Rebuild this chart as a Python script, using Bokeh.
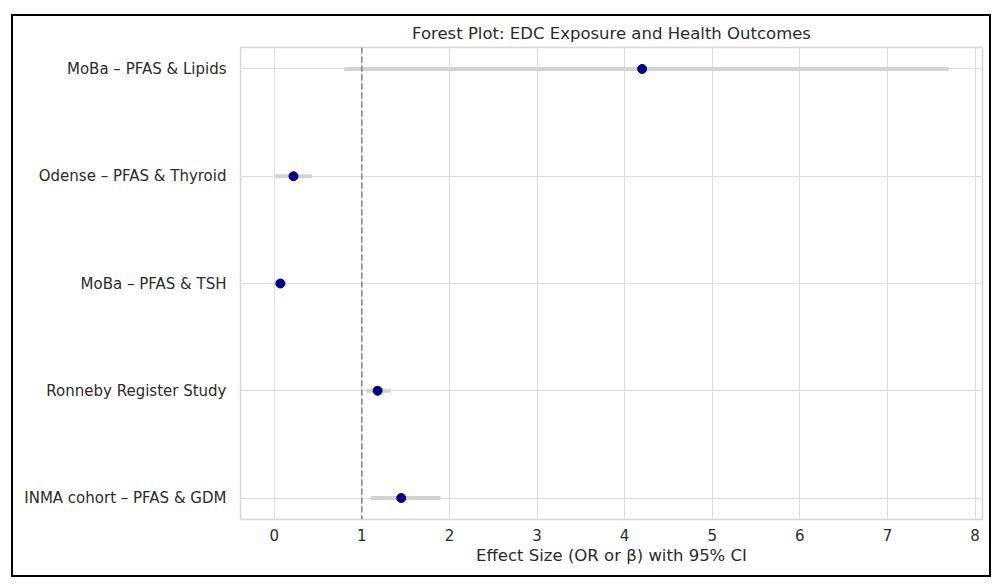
from bokeh.plotting import figure
from bokeh.models import Range1d, FixedTicker, Span
from bokeh.embed import file_html
from bokeh.resources import INLINE

studies = ["INMA cohort – PFAS & GDM", "Ronneby Register Study", "MoBa – PFAS & TSH",
           "Odense – PFAS & Thyroid", "MoBa – PFAS & Lipids"]
effects = [1.45, 1.18, 0.07, 0.22, 4.20]
ci_low = [1.10, 1.05, 0.00, 0.01, 0.80]
ci_high = [1.90, 1.33, 0.14, 0.43, 7.70]
x_ticks = [0, 1, 2, 3, 4, 5, 6, 7, 8]
ref_value = 1

ypos = list(range(len(studies)))
lo, hi = min(ci_low), max(ci_high)
pad = 0.05 * (hi - lo)

TXT = "#2b2b2b"
FONT = "DejaVu Sans"

p = figure(width=980, height=563, output_backend="svg", toolbar_location=None,
           x_range=Range1d(lo - pad, hi + pad),
           y_range=Range1d(-0.2, len(studies) - 1 + 0.2),
           min_border_left=227, min_border_right=11, min_border_top=29, min_border_bottom=60,
           margin=(14, 0, 0, 11),
           styles={"border": "2px solid black"})

p.title.text = "Forest Plot: EDC Exposure and Health Outcomes"
p.title.align = "center"
p.title.text_font = FONT
p.title.text_font_size = "16.5px"
p.title.text_font_style = "normal"
p.title.text_color = TXT

p.segment(x0=ci_low, y0=ypos, x1=ci_high, y1=ypos, line_color="lightgray", line_width=4)
p.scatter(effects, ypos, size=9, fill_color="navy", line_color="navy")
p.add_layout(Span(location=ref_value, dimension="height", line_color="gray",
                  line_dash="6 3", line_width=1.5))

p.xaxis.ticker = FixedTicker(ticks=x_ticks)
p.yaxis.ticker = FixedTicker(ticks=ypos)
p.yaxis.major_label_overrides = {i: s for i, s in enumerate(studies)}
p.xaxis.axis_label = "Effect Size (OR or β) with 95% CI"

for ax in (p.xaxis, p.yaxis):
    ax.axis_line_color = None
    ax.major_tick_line_color = None
    ax.minor_tick_line_color = None
    ax.major_tick_out = 0
    ax.major_tick_in = 0
    ax.major_label_text_font = FONT
    ax.major_label_text_font_size = "15px"
    ax.major_label_text_color = TXT
    ax.axis_label_text_font = FONT
    ax.axis_label_text_font_size = "16.5px"
    ax.axis_label_text_font_style = "normal"
    ax.axis_label_text_color = TXT
p.yaxis.major_label_standoff = 14
p.xaxis.major_label_standoff = 9
p.xaxis.axis_label_standoff = 2

p.xgrid.grid_line_color = "#dddddd"
p.ygrid.grid_line_color = "#dddddd"
p.xgrid.ticker = FixedTicker(ticks=x_ticks)
p.ygrid.ticker = FixedTicker(ticks=ypos)
p.outline_line_color = "#d6d6d6"
p.outline_line_width = 1.5

open("out.html", "w").write(file_html(p, INLINE))
